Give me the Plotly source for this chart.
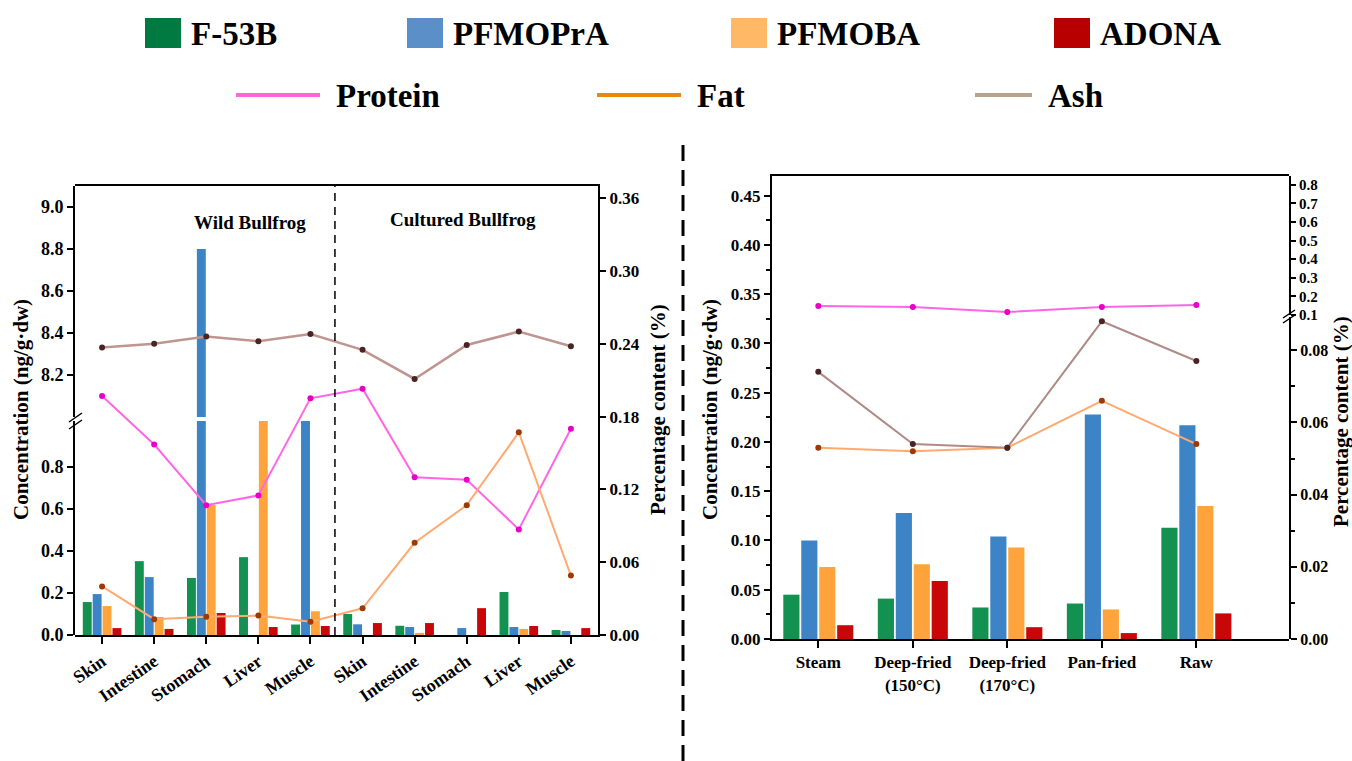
import plotly.graph_objects as go

W, H = 1352, 761

# ---------------- data ----------------
tissues = ["Skin", "Intestine", "Stomach", "Liver", "Muscle",
           "Skin", "Intestine", "Stomach", "Liver", "Muscle"]
f53b_tissue = [0.157, 0.352, 0.272, 0.371, 0.050, 0.100, 0.044, 0.0, 0.205, 0.024]
pfmopra_tissue = [0.195, 0.276, 8.80, 0.0, 1.10, 0.051, 0.038, 0.033, 0.038, 0.019]
pfmoba_tissue = [0.138, 0.086, 0.62, 1.10, 0.113, 0.0, 0.010, 0.0, 0.029, 0.0]
adona_tissue = [0.033, 0.029, 0.105, 0.038, 0.043, 0.057, 0.057, 0.128, 0.043, 0.033]
protein_tissue = [0.197, 0.157, 0.107, 0.115, 0.195, 0.203, 0.130, 0.128, 0.087, 0.170]
fat_tissue = [0.040, 0.013, 0.015, 0.016, 0.011, 0.022, 0.076, 0.107, 0.167, 0.049]
ash_tissue = [0.237, 0.240, 0.246, 0.242, 0.248, 0.235, 0.211, 0.239, 0.250, 0.238]

methods = ["Steam", "Deep-fried<br>(150°C)", "Deep-fried<br>(170°C)", "Pan-fried", "Raw"]
f53b_cook = [0.045, 0.041, 0.032, 0.036, 0.113]
pfmopra_cook = [0.100, 0.128, 0.104, 0.228, 0.217]
pfmoba_cook = [0.073, 0.076, 0.093, 0.030, 0.135]
adona_cook = [0.014, 0.059, 0.012, 0.006, 0.026]
protein_cook = [0.148, 0.143, 0.116, 0.143, 0.154]
fat_cook = [0.053, 0.052, 0.053, 0.066, 0.054]
ash_cook = [0.074, 0.054, 0.053, 0.088, 0.077]

bar_names = ["F-53B", "PFMOPrA", "PFMOBA", "ADONA"]
bar_colors = ["#139150", "#3d84c6", "#ffa43c", "#c80808"]
legend_bar_colors = ["#007a40", "#5a8fc8", "#ffb866", "#b80000"]
line_names = ["Protein", "Fat", "Ash"]
line_colors = ["#ff66e6", "#ffaa70", "#bf9590"]
marker_colors = ["#e600c8", "#9c3a05", "#4a2424"]
legend_line_colors = ["#ff66dd", "#e8890a", "#b8a48a"]

FONT = "Liberation Serif, Times New Roman, serif"


def px(x):
    return x / W


def py(y):
    return 1 - y / H


fig = go.Figure()

tissue_bars = [f53b_tissue, pfmopra_tissue, pfmoba_tissue, adona_tissue]
cook_bars = [f53b_cook, pfmopra_cook, pfmoba_cook, adona_cook]
xt = list(range(len(tissues)))
xc = list(range(len(methods)))

# left chart bars: lower and upper (broken) segments
for ya in ["y", "y2"]:
    for name, vals, col in zip(bar_names, tissue_bars, bar_colors):
        fig.add_trace(go.Bar(x=xt, y=vals, name=name, marker_color=col,
                             marker_line_width=0, xaxis="x", yaxis=ya,
                             showlegend=False))
# left chart lines
for name, vals, lc, mc in zip(line_names, [protein_tissue, fat_tissue, ash_tissue],
                              line_colors, marker_colors):
    fig.add_trace(go.Scatter(x=xt, y=vals, name=name, mode="lines+markers",
                             line=dict(color=lc, width=2.5 if name == "Ash" else 2),
                             marker=dict(color=mc, size=6),
                             xaxis="x", yaxis="y3", showlegend=False))

# right chart bars
for name, vals, col in zip(bar_names, cook_bars, bar_colors):
    fig.add_trace(go.Bar(x=xc, y=vals, name=name, marker_color=col,
                         marker_line_width=0, xaxis="x2", yaxis="y4",
                         showlegend=False))
# right chart lines
fig.add_trace(go.Scatter(x=xc, y=protein_cook, name="Protein", mode="lines+markers",
                         line=dict(color=line_colors[0], width=2),
                         marker=dict(color=marker_colors[0], size=6),
                         xaxis="x2", yaxis="y6", showlegend=False))
fig.add_trace(go.Scatter(x=xc, y=fat_cook, name="Fat", mode="lines+markers",
                         line=dict(color=line_colors[1], width=2),
                         marker=dict(color=marker_colors[1], size=6),
                         xaxis="x2", yaxis="y5", showlegend=False))
fig.add_trace(go.Scatter(x=xc, y=ash_cook, name="Ash", mode="lines+markers",
                         line=dict(color="#b08a86", width=2),
                         marker=dict(color=marker_colors[2], size=6),
                         xaxis="x2", yaxis="y5", showlegend=False))

tickfont = dict(family=FONT, size=18, color="black", weight="bold")
common = dict(showline=True, linewidth=2, linecolor="black", ticks="outside",
              ticklen=6, tickwidth=2, tickcolor="black", showgrid=False,
              zeroline=False, tickfont=tickfont, automargin=False)

fig.update_layout(
    width=W, height=H, autosize=False,
    margin=dict(l=0, r=0, t=0, b=0),
    paper_bgcolor="white", plot_bgcolor="rgba(0,0,0,0)",
    font=dict(family=FONT, color="black", weight="bold"),
    barmode="group", bargap=0.24, bargroupgap=0.1,
    xaxis=dict(domain=[px(75), px(598)], range=[-0.52, 9.52], anchor="y3",
               tickvals=xt, ticktext=tissues, tickangle=-35, mirror=True,
               **{**common, "ticklen": 7, "tickfont": dict(family=FONT, size=18, color="black", weight="bold")}),
    yaxis=dict(domain=[py(635), py(421)], range=[0, 1.02], anchor="x",
               tickvals=[0, 0.2, 0.4, 0.6, 0.8],
               ticktext=["0.0", "0.2", "0.4", "0.6", "0.8"], **common),
    yaxis2=dict(domain=[py(417), py(186)], range=[8.0, 9.1], anchor="x",
                tickvals=[8.2, 8.4, 8.6, 8.8, 9.0],
                ticktext=["8.2", "8.4", "8.6", "8.8", "9.0"], **common),
    yaxis3=dict(domain=[py(635), py(186)], range=[0, 0.37], anchor="x", side="right",
                tickvals=[0, 0.06, 0.12, 0.18, 0.24, 0.30, 0.36],
                ticktext=["0.00", "0.06", "0.12", "0.18", "0.24", "0.30", "0.36"],
                **{**common, "tickfont": dict(family=FONT, size=17, color="black", weight="bold")}),
    xaxis2=dict(domain=[px(772), px(1289)], range=[-0.49, 4.98], anchor="y4",
                tickvals=xc, ticktext=methods, tickangle=0, mirror=True,
                **{**common, "ticklen": 7, "tickfont": dict(family=FONT, size=17, color="black", weight="bold")}),
    yaxis4=dict(domain=[py(639), py(176)], range=[0, 0.47], anchor="x2",
                tickvals=[0, 0.05, 0.1, 0.15, 0.2, 0.25, 0.3, 0.35, 0.4, 0.45],
                ticktext=["0.00", "0.05", "0.10", "0.15", "0.20", "0.25", "0.30", "0.35", "0.40", "0.45"],
                minor=dict(ticks="outside", ticklen=4, tickwidth=1.5, tickcolor="black", dtick=0.025, tick0=0),
                **{**common, "tickfont": dict(family=FONT, size=17, color="black", weight="bold")}),
    yaxis5=dict(domain=[py(639), py(317)], range=[0, 0.0892], anchor="x2", side="right",
                tickvals=[0, 0.02, 0.04, 0.06, 0.08],
                ticktext=["0.00", "0.02", "0.04", "0.06", "0.08"],
                minor=dict(ticks="outside", ticklen=4, tickwidth=1.5, tickcolor="black", dtick=0.01, tick0=0),
                **{**common, "tickfont": dict(family=FONT, size=16, color="black", weight="bold")}),
    yaxis6=dict(domain=[py(315), py(176)], range=[0.1, 0.847], anchor="x2", side="right",
                tickvals=[0.1, 0.2, 0.3, 0.4, 0.5, 0.6, 0.7, 0.8],
                ticktext=["0.1", "0.2", "0.3", "0.4", "0.5", "0.6", "0.7", "0.8"],
                **{**common, "ticklen": 5, "tickfont": dict(family=FONT, size=15, color="black", weight="bold")}),
)

shapes = []
# inner dashed divider (left chart)
shapes.append(dict(type="line", xref="x", yref="paper", x0=4.47, x1=4.47,
                   y0=py(635), y1=py(186), line=dict(color="black", width=1.5, dash="8px,6px")))
# middle dashed divider
shapes.append(dict(type="line", xref="paper", yref="paper", x0=px(683), x1=px(683),
                   y0=py(145), y1=0, line=dict(color="black", width=3, dash="16px,9px")))
# axis break marks
for dy in (0, 7):
    shapes.append(dict(type="line", xref="paper", yref="paper",
                       x0=px(69), y0=py(422 + dy), x1=px(82), y1=py(413 + dy),
                       line=dict(color="black", width=1.5)))
for dy in (0, 5):
    shapes.append(dict(type="line", xref="paper", yref="paper",
                       x0=px(1283), y0=py(318 + dy), x1=px(1295), y1=py(310 + dy),
                       line=dict(color="black", width=1.5)))

# legend (row 1: bar swatches, row 2: line swatches)
bar_leg_x = [145, 407, 731, 1054]
for x0, col in zip(bar_leg_x, legend_bar_colors):
    shapes.append(dict(type="rect", xref="paper", yref="paper",
                       x0=px(x0), x1=px(x0 + 36), y0=py(48), y1=py(18),
                       fillcolor=col, line=dict(width=0)))
line_leg_x = [236, 597, 975]
line_leg_len = [84, 84, 57]
for x0, ln, col in zip(line_leg_x, line_leg_len, legend_line_colors):
    shapes.append(dict(type="line", xref="paper", yref="paper",
                       x0=px(x0), x1=px(x0 + ln), y0=py(95), y1=py(95),
                       line=dict(color=col, width=4)))
fig.update_layout(shapes=shapes)

annotations = []
leg_font = dict(family=FONT, size=33, color="black", weight="bold")
for x0, name in zip(bar_leg_x, bar_names):
    annotations.append(dict(xref="paper", yref="paper", x=px(x0 + 44), y=py(34),
                            text=name, showarrow=False, xanchor="left", yanchor="middle",
                            font=leg_font))
for x0, ln, name in zip(line_leg_x, line_leg_len, line_names):
    annotations.append(dict(xref="paper", yref="paper", x=px(x0 + ln + 14), y=py(96),
                            text=name, showarrow=False, xanchor="left", yanchor="middle",
                            font=leg_font))

lab_font = dict(family=FONT, size=19, color="black", weight="bold")
annotations += [
    dict(xref="paper", yref="paper", x=px(192), y=py(222), text="Wild Bullfrog",
         showarrow=False, yanchor="middle", font=lab_font),
    dict(xref="paper", yref="paper", x=px(463), y=py(219), text="Cultured Bullfrog",
         showarrow=False, yanchor="middle", font=lab_font),
]
title_font = dict(family=FONT, size=21, color="black", weight="bold")
for x, y, t in [(21, 410, "Concentration (ng/g·dw)"), (658, 410, "Percentage content (%)"),
                (710, 410, "Concentration (ng/g·dw)"), (1341, 422, "Percentage content (%)")]:
    annotations.append(dict(xref="paper", yref="paper", x=px(x), y=py(y), text=t,
                            textangle=-90, showarrow=False, xanchor="center", yanchor="middle",
                            font=title_font))
fig.update_layout(annotations=annotations)

fig.write_html("out.html")
